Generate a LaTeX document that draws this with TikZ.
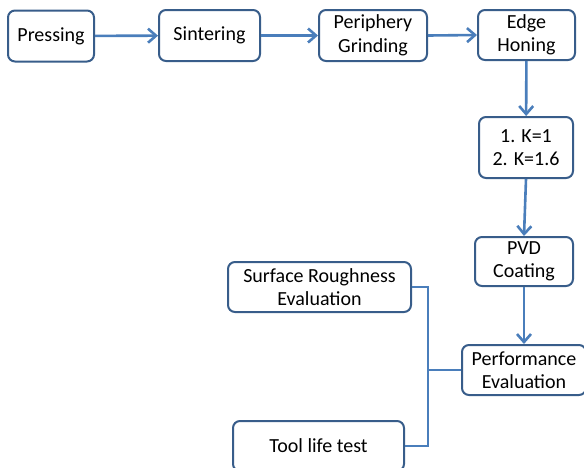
\documentclass[tikz,border=0pt]{standalone}
\usepackage{fontspec}
\setmainfont{Carlito}
\usetikzlibrary{arrows.meta}
\definecolor{boxline}{RGB}{56,93,138}
\definecolor{arrowline}{RGB}{74,126,187}

\begin{document}
\begin{tikzpicture}[x=1pt,y=-1pt,
	stage/.style={draw=boxline,line width=2pt,rounded corners=7pt,fill=white,
		align=center,inner sep=0pt,font=\fontsize{20}{23.5}\selectfont},
	flow/.style={arrowline,line width=2.6pt,-{Straight Barb[length=8pt,width=14pt,line width=2.6pt]}},
	link/.style={arrowline,line width=2.6pt}]
	\useasboundingbox (0,0) rectangle (584,467);
	% process chain
	\node[stage,minimum width=86pt,minimum height=51pt] (press) at (51,36) {Pressing};
	\node[stage,minimum width=101pt,minimum height=51pt] (sinter) at (209.5,35.5) {Sintering};
	\node[stage,minimum width=108pt,minimum height=51pt] (grind) at (373,35.5) {Periphery\\Grinding};
	\node[stage,minimum width=97pt,minimum height=50pt] (hone) at (526.5,35) {Edge\\Honing};
	\node[stage,minimum width=94pt,minimum height=61pt] (kval) at (526,147.5) {1. K=1\\2. K=1.6};
	\node[stage,minimum width=98pt,minimum height=49pt] (pvd) at (524,261.5) {PVD\\Coating};
	\node[stage,minimum width=124pt,minimum height=50pt] (perf) at (524,370) {Performance\\Evaluation};
	% tests
	\node[stage,minimum width=183pt,minimum height=50pt] (rough) at (319.5,287) {Surface Roughness\\Evaluation};
	\node[stage,minimum width=171pt,minimum height=50pt] (life) at (318.5,446) {Tool life test};
	\coordinate (jn) at (428,370);
	\draw[flow] (press) -- (sinter);
	\draw[flow] (sinter) -- (grind);
	\draw[flow] (grind.east) -- (hone.west);
	\draw[flow] (hone) -- (kval);
	\draw[flow] (kval.south) -- (pvd.north);
	\draw[flow] (pvd) -- (perf);
	\draw[link] (rough.east) -| (jn) |- (life.east);
	\draw[link] (jn) -- (perf.west);
\end{tikzpicture}
\end{document}
